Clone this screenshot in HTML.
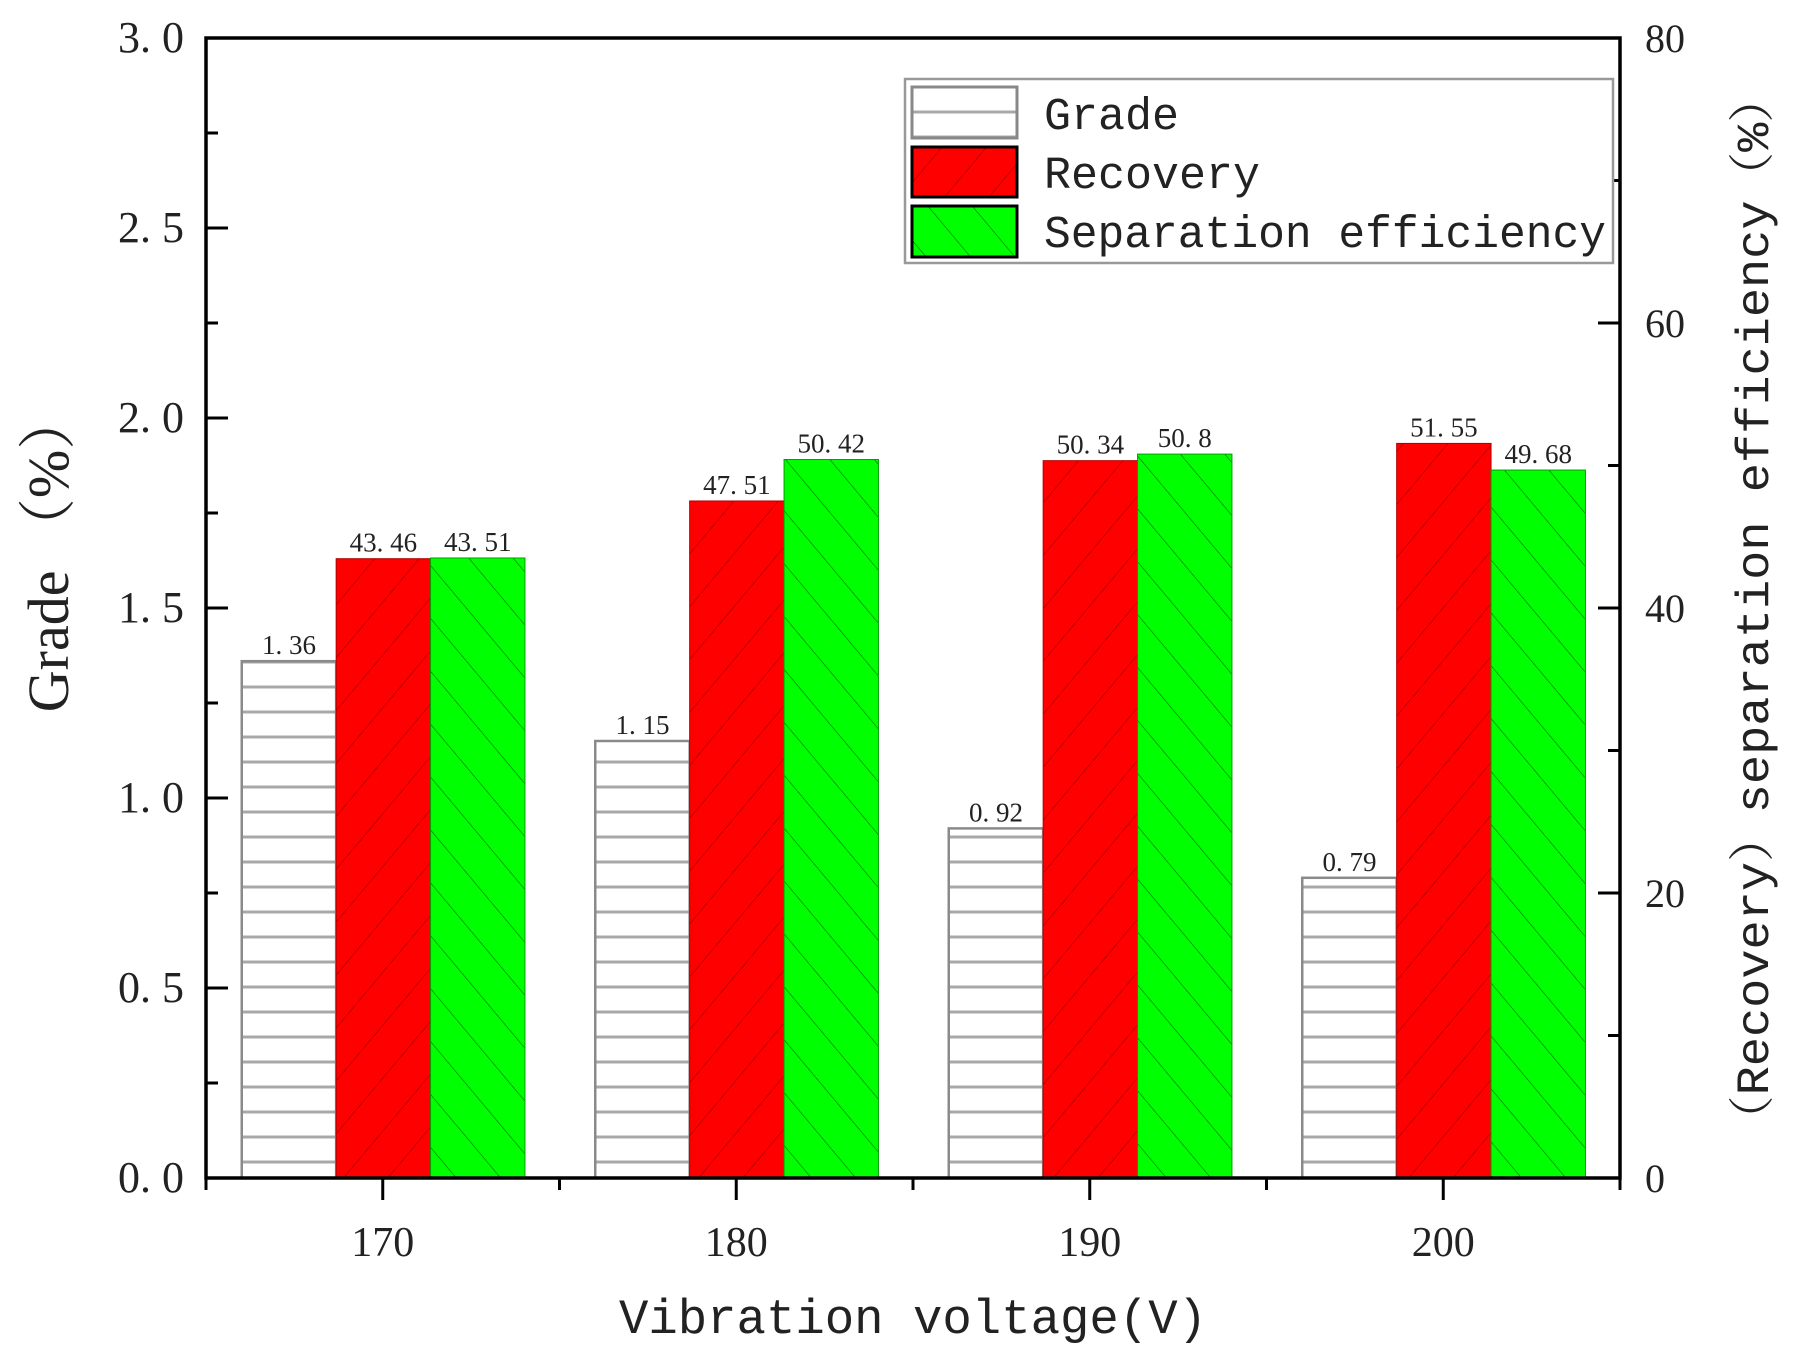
<!DOCTYPE html>
<html><head><meta charset="utf-8">
<style>
html,body{margin:0;padding:0;background:#fff;}
svg{display:block;}
.mono{font-family:"Liberation Mono","Noto Serif CJK SC",monospace;}
.serif{font-family:"Liberation Serif","Noto Serif CJK SC",serif;}
</style></head>
<body>
<svg id="chart" width="1794" height="1361" viewBox="0 0 1794 1361" xmlns="http://www.w3.org/2000/svg">
<defs>
<pattern id="hGrade" patternUnits="userSpaceOnUse" width="20" height="25"><line x1="0" y1="12" x2="20" y2="12" stroke="#a8a8a8" stroke-width="3"/></pattern>
<pattern id="hRed" patternUnits="userSpaceOnUse" width="34" height="34" patternTransform="rotate(40)"><rect width="34" height="34" fill="#ff0000"/><line x1="0" y1="0" x2="0" y2="34" stroke="#8a0000" stroke-width="1"/></pattern>
<pattern id="hGreen" patternUnits="userSpaceOnUse" width="34" height="34" patternTransform="rotate(-40)"><rect width="34" height="34" fill="#00ff00"/><line x1="0" y1="0" x2="0" y2="34" stroke="#007000" stroke-width="1.2"/></pattern>
</defs>
<g id="plot"></g>
</svg>
<script>
const categories = ["170","180","190","200"];
const grade = [1.36,1.15,0.92,0.79];
const recovery = [43.46,47.51,50.34,51.55];
const efficiency = [43.51,50.42,50.8,49.68];
const gradeLabels = ["1.36","1.15","0.92","0.79"];
const recoveryLabels = ["43.46","47.51","50.34","51.55"];
const efficiencyLabels = ["43.51","50.42","50.8","49.68"];
const leftTicks = [0,0.5,1.0,1.5,2.0,2.5,3.0];
const rightTicks = [0,20,40,60,80];

const NS="http://www.w3.org/2000/svg";
const L=206,R=1620,T=38,B=1178;
const g=document.getElementById('plot');
function el(tag,attrs,parent){const e=document.createElementNS(NS,tag);for(const k in attrs)e.setAttribute(k,attrs[k]);(parent||g).appendChild(e);return e;}
const yL=v=>B-(v/3)*(B-T);
const yR=v=>B-(v/80)*(B-T);
const step=(R-L)/categories.length;
const xC=i=>L+(i+0.5)*step;
const bw=94.4;
const fmt=s=>s.replace('.', '. ');

categories.forEach((c,i)=>{
  const x0=xC(i)-141;
  let r=el('rect',{x:x0,y:yL(grade[i]),width:bw,height:B-yL(grade[i]),fill:'#fff'});
  
  
  r=el('rect',{x:x0,y:yL(grade[i]),width:bw,height:B-yL(grade[i]),fill:'url(#hGrade)',stroke:'#8a8a8a','stroke-width':2.5});
  
  
  r=el('rect',{x:x0+bw,y:yR(recovery[i]),width:bw,height:B-yR(recovery[i]),fill:'url(#hRed)',stroke:'#b00000','stroke-width':1});
  
  
  r=el('rect',{x:x0+2*bw,y:yR(efficiency[i]),width:bw,height:B-yR(efficiency[i]),fill:'url(#hGreen)',stroke:'#00a000','stroke-width':1});
  
  
  const vals=[[gradeLabels[i],yL(grade[i])],[recoveryLabels[i],yR(recovery[i])],[efficiencyLabels[i],yR(efficiency[i])]];
  vals.forEach((v,j)=>{
    const t=el('text',{x:x0+bw*(j+0.5),y:v[1]-7,'text-anchor':'middle','font-size':27,class:'serif',fill:'#222'});
    t.textContent=fmt(v[0]);
    
    
  });
  el('line',{x1:xC(i),y1:B,x2:xC(i),y2:B+22,stroke:'#000','stroke-width':3});
  const tl=el('text',{x:xC(i),y:1256,'text-anchor':'middle','font-size':42,class:'serif',fill:'#222'});
  tl.textContent=c;
  
  
  if(i<categories.length-1){el('line',{x1:L+(i+1)*step,y1:B,x2:L+(i+1)*step,y2:B+12,stroke:'#000','stroke-width':3});}
});
el('line',{x1:L,y1:B,x2:L,y2:B+12,stroke:'#000','stroke-width':3});
el('line',{x1:R,y1:B,x2:R,y2:B+12,stroke:'#000','stroke-width':3});

const fr=el('rect',{x:L,y:T,width:R-L,height:B-T,fill:'none',stroke:'#000','stroke-width':3.5});



leftTicks.forEach(v=>{
  el('line',{x1:L,y1:yL(v),x2:L+22,y2:yL(v),stroke:'#000','stroke-width':3});
  if(v<3) el('line',{x1:L,y1:yL(v+0.25),x2:L+12,y2:yL(v+0.25),stroke:'#000','stroke-width':3});
  const t=el('text',{x:184,y:yL(v)+14,'text-anchor':'end','font-size':44,class:'serif',fill:'#222'});
  t.textContent=v.toFixed(1).replace('.', '.  ');
  t.setAttribute('xml:space','preserve');
  
  
});
rightTicks.forEach(v=>{
  el('line',{x1:R,y1:yR(v),x2:R-22,y2:yR(v),stroke:'#000','stroke-width':3});
  if(v<80) el('line',{x1:R,y1:yR(v+10),x2:R-12,y2:yR(v+10),stroke:'#000','stroke-width':3});
  const t=el('text',{x:1645,y:yR(v)+14,'text-anchor':'start','font-size':40,class:'serif',fill:'#222'});
  t.textContent=v;
  
  
});
</script>
<svg style="position:absolute;left:0;top:0" width="1794" height="1361" xmlns="http://www.w3.org/2000/svg">
<defs>
<pattern id="hGrade2" patternUnits="userSpaceOnUse" width="20" height="25"><line x1="0" y1="12" x2="20" y2="12" stroke="#a8a8a8" stroke-width="3"/></pattern>
<pattern id="hRed2" patternUnits="userSpaceOnUse" width="34" height="34" patternTransform="rotate(40)"><rect width="34" height="34" fill="#ff0000"/><line x1="0" y1="0" x2="0" y2="34" stroke="#8a0000" stroke-width="1"/></pattern>
<pattern id="hGreen2" patternUnits="userSpaceOnUse" width="34" height="34" patternTransform="rotate(-40)"><rect width="34" height="34" fill="#00ff00"/><line x1="0" y1="0" x2="0" y2="34" stroke="#007000" stroke-width="1.2"/></pattern>
</defs>
<text x="913" y="1333" text-anchor="middle" font-size="49" class="mono" fill="#222">Vibration voltage(V)</text>
<text transform="translate(68,552) rotate(-90)" text-anchor="middle" font-size="58" font-family="Liberation Serif, Noto Serif CJK SC, serif" fill="#222">Grade （%）</text>
<text transform="translate(1768,609) rotate(-90)" text-anchor="middle" font-size="46" class="mono" fill="#222" textLength="1070" lengthAdjust="spacingAndGlyphs">（Recovery）separation efficiency（%）</text>
<g>
<rect x="905" y="79" width="708" height="184" fill="#fff" stroke="#999" stroke-width="2.5"/>
<rect x="912" y="87" width="105" height="51" fill="url(#hGrade2)" stroke="#888" stroke-width="3"/>
<rect x="912" y="147" width="105" height="50" fill="url(#hRed2)" stroke="#000" stroke-width="3"/>
<rect x="912" y="206" width="105" height="51" fill="url(#hGreen2)" stroke="#000" stroke-width="3"/>
<text x="1044" y="129" font-size="45" class="mono" fill="#222">Grade</text>
<text x="1044" y="188" font-size="45" class="mono" fill="#222">Recovery</text>
<text x="1044" y="247" font-size="45" class="mono" fill="#222" textLength="562" lengthAdjust="spacingAndGlyphs">Separation efficiency</text>
</g>
</svg>
</body></html>
